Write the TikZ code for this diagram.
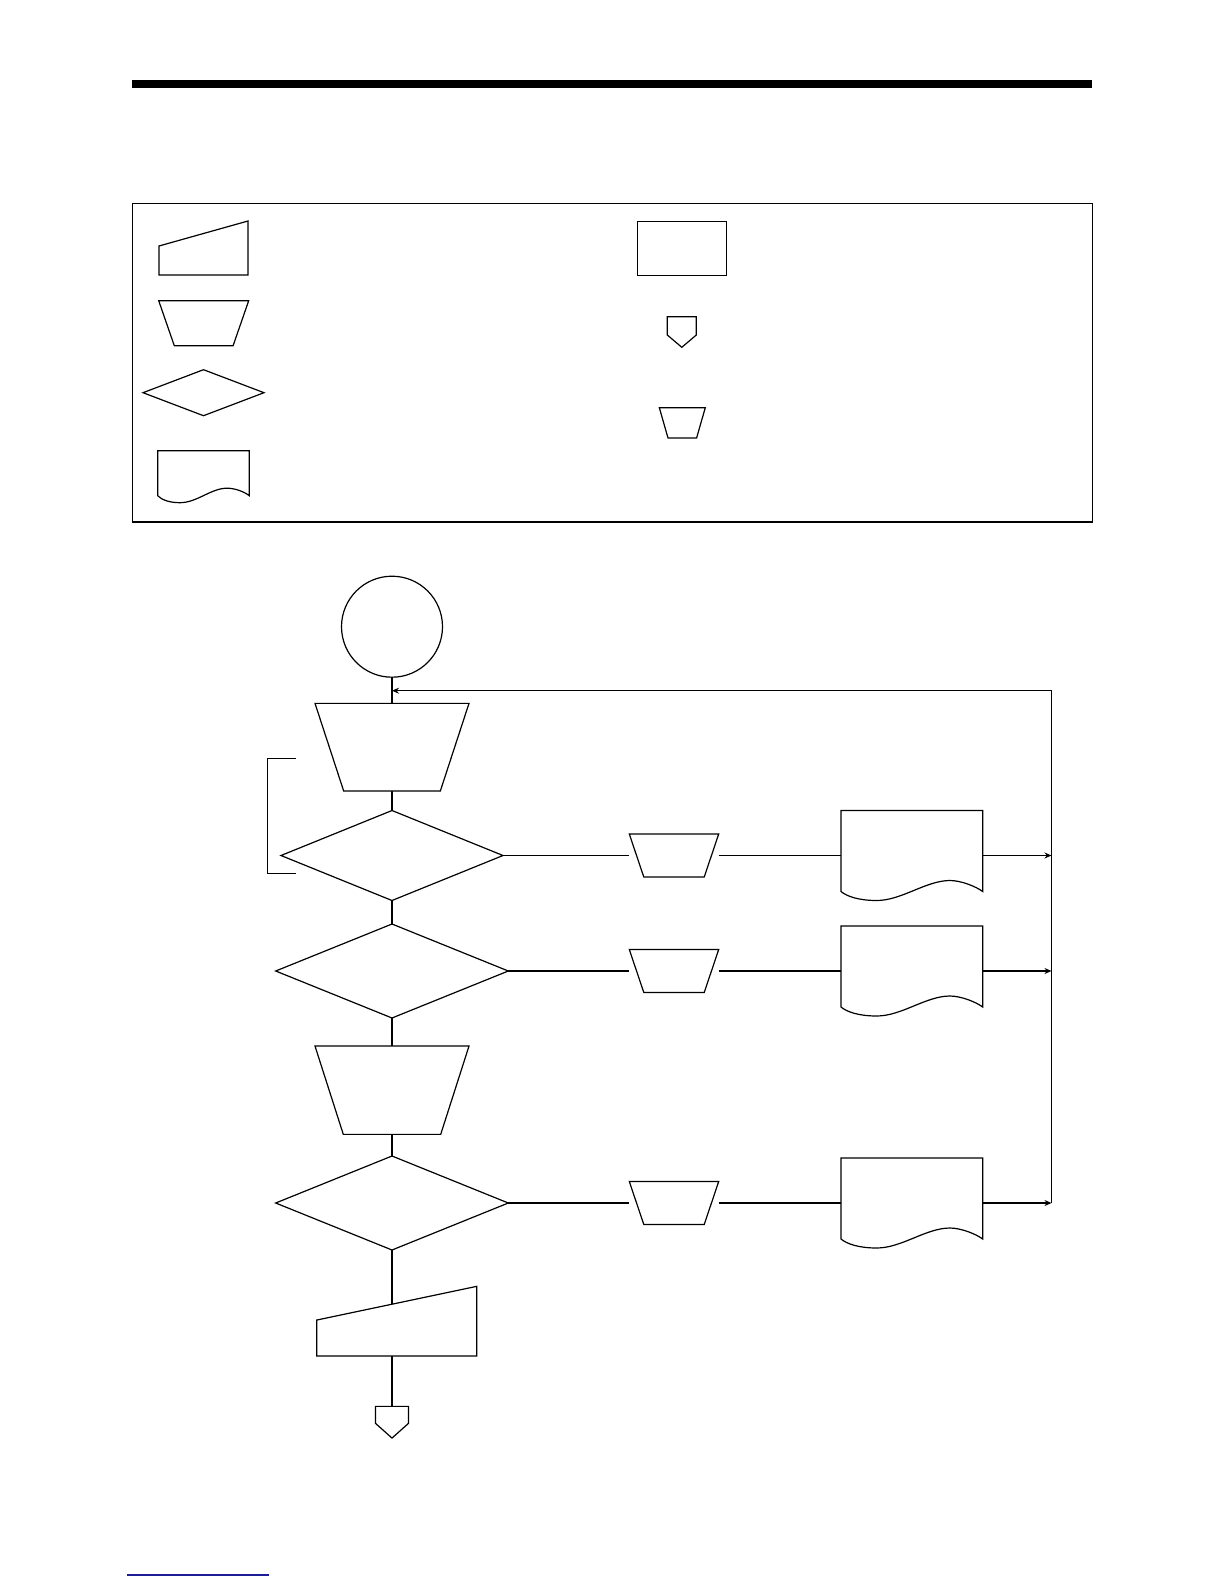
\documentclass[tikz,border=0pt]{standalone}
\usetikzlibrary{shapes.geometric,arrows.meta,calc}
\definecolor{linkblue}{RGB}{28,28,150}
\begin{document}
\begin{tikzpicture}[x=0.5pt,y=0.5pt,yscale=-1,
    box/.style={rectangle,draw=none,inner sep=0pt,outer sep=0pt},
    decision/.style={diamond,draw,line width=0.6pt,inner sep=0pt,outer sep=0pt},
    outline/.style={draw,fill=white,line width=0.6pt},
    conn/.style={line width=0.6pt},
    arr/.style={conn,-{Stealth[length=3.5pt,width=3pt]}}]
    \useasboundingbox (0,0) rectangle (1224,1584);

    %Shape: Rectangle (rule)
    \fill (132,80) rectangle (1092,88);
    %Shape: Rectangle (legend frame)
    \draw [line width=0.75pt] (132.7,203.3) rectangle (1092.7,522);

    % Legend nodes
    \node [box, minimum width=44.5pt, minimum height=27pt] (lgin) at (203.5,248) {};
    \node [box, minimum width=45pt, minimum height=22.5pt] (lgmanop) at (203.7,323.2) {};
    \node [decision, minimum width=60.5pt, minimum height=23pt] (lgdec) at (203.5,392.7) {};
    \node [box, minimum width=45.8pt, minimum height=26pt] (lgdoc) at (203.5,476.7) {};
    \node [rectangle, draw, line width=0.6pt, inner sep=0pt, outer sep=0pt, minimum width=44.7pt, minimum height=27pt] (lgproc) at (682,248.3) {};
    \node [box, minimum width=14.5pt, minimum height=15.3pt] (lgoff) at (681.8,332) {};
    \node [box, minimum width=23pt, minimum height=15.15pt] (lgsmall) at (682.3,422.8) {};

    % Flow nodes
    \node [circle, draw, line width=0.6pt, inner sep=0pt, outer sep=0pt, minimum size=50.5pt] (start) at (392,626.7) {};
    \coordinate (join) at (392,690.7);
    \node [box, minimum width=77pt, minimum height=43.85pt] (tr1) at (392,747.2) {};
    \node [decision, minimum width=111pt, minimum height=45pt] (dia1) at (392,855.5) {};
    \node [decision, minimum width=116.3pt, minimum height=47pt] (dia2) at (392,971) {};
    \node [box, minimum width=77pt, minimum height=44.15pt] (tr2) at (392,1090.2) {};
    \node [decision, minimum width=116.3pt, minimum height=47pt] (dia3) at (392,1203) {};
    \node [box, minimum width=80pt, minimum height=34.85pt] (minput) at (396.7,1321.2) {};
    \node [box, minimum width=16.5pt, minimum height=15.85pt] (offpage) at (392,1422.2) {};
    \foreach \r/\y in {1/855.5,2/971,3/1203}{
        \node [box, minimum width=44.7pt, minimum height=21.5pt] (sm\r) at (674,\y) {};
        \node [box, minimum width=70.85pt, minimum height=45pt] (doc\r) at (911.85,\y) {};
        \coordinate (bus\r) at (1051.5,\y);
    }

    %Straight Lines
    \draw [conn] (start.south) -- (tr1.north);
    \draw [conn] (tr1.south) -- (dia1.north);
    \draw [conn] (dia1.south) -- (dia2.north);
    \draw [conn] (dia2.south) -- (tr2.north);
    \draw [conn] (tr2.south) -- (dia3.north);
    \draw [conn] (dia3.south) -- (dia3.south |- minput.center);
    \draw [conn] (offpage.north) -- (offpage.north |- minput.south);
    \foreach \r in {1,2,3}{
        \draw [conn] (dia\r.east) -- (sm\r.west);
        \draw [conn] (sm\r.east) -- (doc\r.west);
        \draw [arr] (doc\r.east) -- (bus\r);
    }
    \draw [arr] (bus3) -- (bus3 |- join) -- (join);
    %Straight Lines (bracket)
    \draw [conn] (295.7,758.3) -- (267.3,758.3) -- (267.3,873.3) -- (295.7,873.3);

    %Shape: Trapezoid
    \foreach \n/\i in {tr1/28.7,tr2/28.3,lgmanop/15.6,sm1/14.5,sm2/14.5,sm3/14.5,lgsmall/8.7}
        \draw [outline] (\n.north west) -- (\n.north east) -- ($(\n.south east)+(-\i,0)$) -- ($(\n.south west)+(\i,0)$) -- cycle;
    %Shape: Document
    \foreach \n in {doc1,doc2,doc3}
        \draw [outline] (\n.north west) -- (\n.north east) -- ++(0,81) .. controls +(-6.7,-5) and +(11,0) .. ++(-32.7,-11) .. controls +(-24,0) and +(25,0) .. ++(-73.3,20) .. controls +(-17.7,0) and +(6,5) .. ++(-35.7,-9) -- cycle;
    \draw [outline] (lgdoc.north west) -- (lgdoc.north east) -- ++(0,45) .. controls +(-5,-4) and +(8,0) .. ++(-22.3,-7.5) .. controls +(-16,0) and +(17,0) .. ++(-47,14.5) .. controls +(-11,0) and +(4,4) .. ++(-22.3,-7) -- cycle;
    %Shape: Manual Input
    \foreach \n/\h in {lgin/29,minput/36}
        \draw [outline] (\n.north east) -- (\n.south east) -- (\n.south west) -- ++(0,-\h) -- cycle;
    %Shape: Off-page Connector
    \foreach \n/\s in {lgoff/18.3,offpage/17}
        \draw [outline] (\n.north west) -- (\n.north east) -- ++(0,\s) -- (\n.south) -- ($(\n.north west)+(0,\s)$) -- cycle;

    %Straight Lines (footnote rule)
    \draw [linkblue, line width=1pt] (127.3,1574.7) -- (269,1574.7);
\end{tikzpicture}
\end{document}
